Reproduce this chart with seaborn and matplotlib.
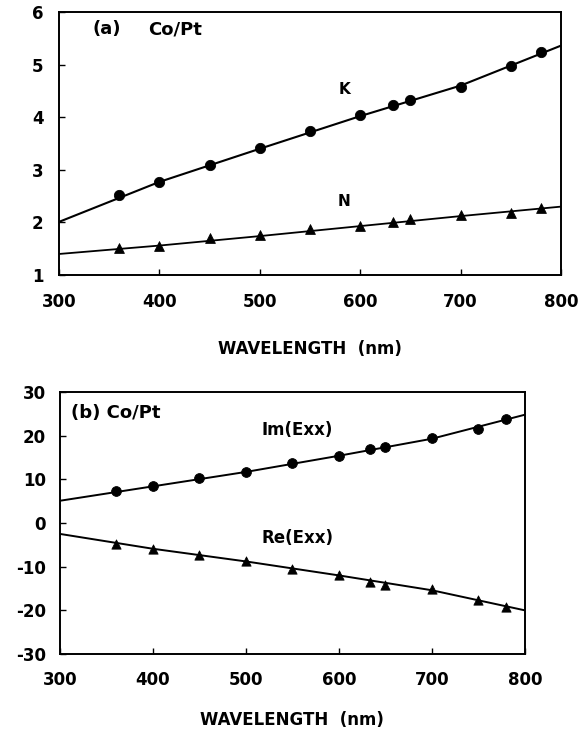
import matplotlib
matplotlib.use("Agg")
import matplotlib.pyplot as plt
import seaborn as sns
import pandas as pd

# measured points (wavelength, nm)
wl = [360, 400, 450, 500, 550, 600, 633, 650, 700, 750, 780]
k_vals = [2.52, 2.77, 3.10, 3.42, 3.74, 4.04, 4.23, 4.32, 4.58, 4.97, 5.23]
n_vals = [1.51, 1.55, 1.70, 1.76, 1.87, 1.93, 2.01, 2.06, 2.14, 2.17, 2.27]
im_vals = [7.3, 8.5, 10.2, 11.6, 13.8, 15.3, 17.0, 17.5, 19.4, 21.5, 23.9]
re_vals = [-4.7, -5.9, -7.3, -8.7, -10.6, -12.0, -13.5, -14.1, -15.2, -17.7, -19.3]

# fitted curves
fit_wl = [300, 400, 500, 600, 700, 800]
k_fit = [2.01, 2.77, 3.40, 4.02, 4.60, 5.36]
n_fit = [1.40, 1.56, 1.74, 1.93, 2.12, 2.30]
im_fit = [5.1, 8.4, 11.7, 15.4, 19.3, 24.8]
re_fit = [-2.5, -5.9, -8.8, -12.0, -15.4, -20.0]

x_ticks = [300, 400, 500, 600, 700, 800]

pts = pd.DataFrame({"wl": wl, "K": k_vals, "N": n_vals, "Im": im_vals, "Re": re_vals})
fit = pd.DataFrame({"wl": fit_wl, "K": k_fit, "N": n_fit, "Im": im_fit, "Re": re_fit})

sns.set_style("ticks")
plt.rcParams["font.family"] = ["DejaVu Sans"]
plt.rcParams["font.weight"] = "bold"
plt.rcParams["axes.unicode_minus"] = False
plt.rcParams["text.color"] = "black"
plt.rcParams["xtick.color"] = "black"
plt.rcParams["ytick.color"] = "black"
plt.rcParams["axes.labelcolor"] = "black"
plt.rcParams["axes.edgecolor"] = "black"

fig = plt.figure(figsize=(5.81, 7.34), dpi=100)
ax1 = fig.add_axes([0.1015, 0.6253, 0.864, 0.3584])
ax2 = fig.add_axes([0.1033, 0.1090, 0.800, 0.3569])


def style(ax, ylim, yticks, xpad, ypad, lpad):
    ax.set_xlim(300, 800)
    ax.set_ylim(*ylim)
    ax.set_xticks(x_ticks)
    ax.set_yticks(yticks)
    for s in ax.spines.values():
        s.set_linewidth(1.4)
        s.set_visible(True)
    ax.tick_params(axis="x", direction="in", length=4, width=1, pad=xpad, labelsize=12)
    ax.tick_params(axis="y", direction="in", length=4, width=1, pad=ypad, labelsize=12)
    for lab in ax.get_xticklabels() + ax.get_yticklabels():
        lab.set_fontweight("bold")
    ax.set_xlabel("WAVELENGTH  (nm)", fontsize=12, fontweight="bold", labelpad=lpad)
    ax.set_ylabel("")


# (a) optical constants
sns.lineplot(data=fit, x="wl", y="K", color="black", lw=1.5, ax=ax1)
sns.lineplot(data=fit, x="wl", y="N", color="black", lw=1.3, ax=ax1)
sns.scatterplot(data=pts, x="wl", y="K", marker="o", s=55, color="black", edgecolor="black", ax=ax1)
sns.scatterplot(data=pts, x="wl", y="N", marker="^", s=50, color="black", edgecolor="black", ax=ax1)
style(ax1, (1, 6), [1, 2, 3, 4, 5, 6], 13, 11, 21)
ax1.text(333, 5.67, "(a)", fontsize=13, fontweight="bold", va="center")
ax1.text(389, 5.67, "Co/Pt", fontsize=13, fontweight="bold", va="center")
ax1.text(584, 4.52, "K", fontsize=11, fontweight="bold", va="center", ha="center")
ax1.text(584, 2.40, "N", fontsize=11, fontweight="bold", va="center", ha="center")

# (b) dielectric tensor
sns.lineplot(data=fit, x="wl", y="Im", color="black", lw=1.4, ax=ax2)
sns.lineplot(data=fit, x="wl", y="Re", color="black", lw=1.4, ax=ax2)
sns.scatterplot(data=pts, x="wl", y="Im", marker="o", s=50, color="black", edgecolor="black", ax=ax2)
sns.scatterplot(data=pts, x="wl", y="Re", marker="^", s=45, color="black", edgecolor="black", ax=ax2)
style(ax2, (-30, 30), [-30, -20, -10, 0, 10, 20, 30], 12, 10, 16)
ax2.text(312, 25.2, "(b) Co/Pt", fontsize=13, fontweight="bold", va="center")
ax2.text(517, 21.2, "Im(Exx)", fontsize=12, fontweight="bold", va="center")
ax2.text(517, -3.4, "Re(Exx)", fontsize=12, fontweight="bold", va="center")

fig.savefig("out.png", dpi=100, facecolor="white")
